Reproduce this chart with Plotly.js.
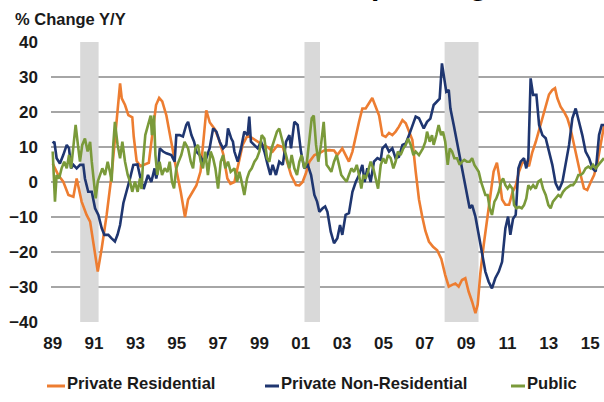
<!DOCTYPE html>
<html>
<head>
<meta charset="utf-8">
<script src="https://cdn.plot.ly/plotly-3.0.1.min.js"></script>
<style>html,body{margin:0;padding:0;background:#fff;}#chart{width:604px;height:402px;}</style>
</head>
<body>
<div id="chart"></div>
<script>
// ---------------- DATA ----------------
const seriesNames = ['Private Residential', 'Private Non-Residential', 'Public'];
const tickYears = [1989,1991,1993,1995,1997,1999,2001,2003,2005,2007,2009,2011,2013,2015];
const tickLabels = ['89','91','93','95','97','99','01','03','05','07','09','11','13','15'];
const recessionStart = [1990.33, 2001.18, 2007.96];
const recessionEnd   = [1991.22, 2001.93, 2009.60];

const resYears = [
1989.0,1989.27,1989.51,1989.76,1990.0,1990.16,1990.4,1990.64,1990.81,1990.97,
1991.13,1991.18,1991.37,1991.61,1991.85,1992.01,1992.18,1992.26,1992.34,1992.5,
1992.66,1992.85,1992.92,1993.06,1993.25,1993.45,1993.65,1993.85,1994.0,1994.15,
1994.3,1994.5,1994.65,1994.85,1995.0,1995.2,1995.4,1995.55,1995.75,1995.95,
1996.15,1996.3,1996.43,1996.6,1996.85,1997.05,1997.25,1997.45,1997.6,1997.79,
1997.95,1998.19,1998.43,1998.67,1998.92,1999.16,1999.4,1999.64,1999.88,2000.13,
2000.29,2000.53,2000.77,2000.93,2001.09,2001.25,2001.42,2001.66,2001.9,2002.13,
2002.37,2002.61,2002.77,2003.01,2003.17,2003.33,2003.5,2003.66,2003.82,2003.98,
2004.14,2004.3,2004.46,2004.62,2004.79,2004.95,2005.11,2005.27,2005.43,2005.59,
2005.75,2005.92,2006.08,2006.24,2006.4,2006.56,2006.72,2006.88,2007.03,2007.2,
2007.4,2007.6,2007.8,2007.99,2008.16,2008.32,2008.48,2008.64,2008.8,2008.96,
2009.12,2009.29,2009.45,2009.56,2009.69,2009.85,2010.01,2010.17,2010.33,2010.49,
2010.6,2010.74,2010.9,2011.08,2011.24,2011.4,2011.56,2011.72,2011.88,2012.04,
2012.2,2012.37,2012.53,2012.69,2012.85,2013.01,2013.17,2013.3,2013.41,2013.57,
2013.74,2013.9,2014.06,2014.22,2014.38,2014.54,2014.7,2014.86,2015.03,2015.19,
2015.35,2015.51,2015.67];
const resValues = [
5.3,2.0,0.1,-3.7,-4.2,1.0,-5.6,-9.4,-11.3,-17.0,
-23.7,-25.6,-19.0,-9.4,2.0,11.5,23.0,28.2,23.9,22,
19.1,18.5,13,6,4.5,5,5.5,15,22,24,
23,19,14,8,3,-3,-10,-5,-3,-1,
3,13,20.5,17,15,12,8,1,-0.5,0,
4,10.6,13.4,12.5,11.5,10.6,10,8.7,10.5,10,
6.8,2,-0.9,-1,0,2.5,5.8,7.7,8.2,9,
9.1,9,7.7,9.6,7.7,5.8,8.7,13.4,17.2,21,
21,22.5,24,21.6,19,13.4,12.9,14,13.4,14.4,
15.8,17.7,16.8,14.4,12,3,-5,-10,-14,-17,
-18.5,-19.5,-22,-26.6,-29.9,-29.4,-29,-29.9,-28,-27.5,
-31.3,-34.2,-37.5,-35,-26,-18,-11.3,-4,3,5.5,
1.5,-5,-6.5,-6.5,-3,-1,3,5.5,5.8,4.5,
8.5,11.5,15,18.2,21.5,25,26.3,26.8,24,21.5,
20,18.2,15,10.5,5.8,2,-1.8,-2.3,0,2,
5.5,10.6,16];

const nonResYears = [
1989.0,1989.08,1989.19,1989.35,1989.51,1989.68,1989.79,1989.89,1990.0,1990.16,
1990.32,1990.48,1990.56,1990.72,1990.89,1991.05,1991.21,1991.37,1991.5,1991.69,
1991.85,1992.01,1992.14,1992.26,1992.42,1992.58,1992.74,1992.9,1993.1,1993.25,
1993.4,1993.61,1993.77,1993.93,1994.01,1994.1,1994.18,1994.34,1994.5,1994.74,
1994.9,1994.98,1995.14,1995.3,1995.46,1995.55,1995.71,1995.84,1995.95,1996.11,
1996.27,1996.43,1996.59,1996.76,1996.92,1997.08,1997.24,1997.4,1997.48,1997.64,
1997.72,1997.79,1997.95,1998.11,1998.27,1998.43,1998.51,1998.59,1998.75,1998.92,
1999.08,1999.24,1999.4,1999.53,1999.64,1999.8,1999.96,2000.13,2000.29,2000.45,
2000.53,2000.69,2000.85,2001.01,2001.17,2001.34,2001.5,2001.66,2001.79,2001.9,
2002.06,2002.18,2002.29,2002.45,2002.61,2002.77,2002.9,2003.01,2003.17,2003.33,
2003.5,2003.66,2003.82,2003.98,2004.09,2004.22,2004.38,2004.54,2004.71,2004.87,
2004.95,2005.11,2005.27,2005.43,2005.59,2005.75,2005.92,2006.08,2006.24,2006.4,
2006.56,2006.72,2006.79,2006.95,2007.11,2007.27,2007.43,2007.59,2007.72,2007.83,
2007.95,2008.04,2008.16,2008.24,2008.4,2008.56,2008.72,2008.88,2009.04,2009.17,
2009.29,2009.45,2009.61,2009.77,2009.93,2010.09,2010.25,2010.41,2010.58,2010.74,
2010.9,2011.03,2011.14,2011.27,2011.4,2011.53,2011.64,2011.8,2011.91,2012.01,
2012.12,2012.24,2012.4,2012.53,2012.69,2012.85,2013.01,2013.17,2013.33,2013.49,
2013.66,2013.82,2013.98,2014.14,2014.3,2014.46,2014.62,2014.78,2014.95,2015.11,
2015.27,2015.43,2015.56,2015.67];
const nonResValues = [
11,11.5,6.8,5.3,7.7,10.6,9.6,3.9,4.9,3.9,
4.9,4.9,1,-2.8,-2.8,-7.5,-9.4,-13.2,-15.1,-15.1,
-16.1,-17,-15,-12.3,-6,-2.8,1,4.9,5,1,
-2,2,0,3.9,1,3.9,9.6,8.7,8.2,7.7,
5.8,13.4,13.4,13,16.3,17.2,13.4,11.5,8.7,7.7,
5.8,6.8,9.6,15.3,14.4,11.5,9.6,10.6,15.3,12.4,
11.5,8.7,5.8,9.6,14.4,13.4,18.7,11.5,10.6,9.6,
11.5,8.7,4.9,2,4.9,2,5.8,4.9,11.5,13.4,
9.6,17.2,16.3,8.7,3.9,4.9,2,-3.7,-5.6,-8.5,
-7.5,-7,-8.5,-14.2,-17.5,-16.1,-12.3,-15.1,-9.4,-8.9,
-2.8,0,2,4.9,0,3.9,0,5.8,6.8,6.3,
9.6,10.6,8.7,9.6,6.8,7.2,10.6,11,13.4,16.3,
18.7,18.2,17.2,15.3,17.2,18.1,22,22.9,23.8,33.9,
29.5,25.8,26.3,21,16.3,11.5,5.8,1,-2.8,-7.5,
-6.6,-9.9,-15.1,-19.9,-25.6,-28.5,-30.4,-27.5,-25.6,-22.8,
-13.2,-9.9,-15.1,-10.5,-9.4,3.9,5.8,6.8,3.9,6.8,
29.6,24.9,24.9,16.3,13.4,12.5,8.7,4.9,-0.4,-2.3,
0.1,4.9,10.6,18.2,21,17.2,13.4,8.7,6.8,3.9,
3,13.4,16.3,16.3];

const pubYears = [
1989.0,1989.11,1989.19,1989.31,1989.43,1989.56,1989.68,1989.79,1989.89,1990.0,
1990.11,1990.24,1990.32,1990.43,1990.56,1990.69,1990.81,1990.89,1990.97,1991.08,
1991.18,1991.29,1991.4,1991.53,1991.66,1991.77,1991.85,1991.93,1992.01,1992.14,
1992.26,1992.37,1992.5,1992.63,1992.74,1992.85,1992.98,1993.11,1993.22,1993.3,
1993.37,1993.48,1993.61,1993.74,1993.8,1993.9,1993.97,1994.06,1994.17,1994.29,
1994.42,1994.55,1994.66,1994.77,1994.87,1994.98,1995.09,1995.22,1995.38,1995.55,
1995.68,1995.79,1995.9,1996.03,1996.16,1996.27,1996.38,1996.51,1996.64,1996.76,
1996.87,1997.0,1997.13,1997.24,1997.35,1997.48,1997.61,1997.79,1997.92,1998.03,
1998.14,1998.27,1998.4,1998.51,1998.63,1998.76,1998.88,1999.0,1999.11,1999.24,
1999.37,1999.48,1999.59,1999.72,1999.85,1999.96,2000.08,2000.21,2000.34,2000.45,
2000.56,2000.69,2000.82,2000.93,2001.04,2001.17,2001.3,2001.42,2001.53,2001.63,
2001.74,2001.85,2001.98,2002.11,2002.25,2002.37,2002.48,2002.61,2002.74,2002.85,
2002.96,2003.09,2003.22,2003.33,2003.45,2003.58,2003.71,2003.82,2003.93,2004.03,
2004.14,2004.25,2004.38,2004.51,2004.62,2004.74,2004.87,2004.99,2005.11,2005.22,
2005.35,2005.48,2005.59,2005.7,2005.83,2005.96,2006.08,2006.19,2006.32,2006.45,
2006.56,2006.72,2006.91,2007.03,2007.11,2007.24,2007.35,2007.43,2007.56,2007.67,
2007.79,2007.88,2007.99,2008.11,2008.21,2008.32,2008.43,2008.56,2008.69,2008.8,
2008.91,2009.04,2009.17,2009.29,2009.4,2009.49,2009.61,2009.72,2009.82,2009.93,
2010.04,2010.14,2010.25,2010.37,2010.46,2010.58,2010.69,2010.79,2010.9,2011.01,
2011.11,2011.24,2011.32,2011.43,2011.56,2011.69,2011.8,2011.91,2012.01,2012.12,
2012.24,2012.37,2012.49,2012.61,2012.72,2012.85,2012.98,2013.09,2013.2,2013.33,
2013.46,2013.57,2013.69,2013.82,2013.95,2014.06,2014.17,2014.3,2014.43,2014.54,
2014.65,2014.78,2014.91,2015.03,2015.14,2015.27,2015.4,2015.51,2015.67];
const pubValues = [
8.7,-5.6,2,1,3.9,5.8,3.9,7.7,3.9,9.6,
16.3,9.6,5.8,10.6,12.4,8.7,11.5,5.8,2,-4.7,
0.1,2,3.9,2,5.8,2.9,0.1,10.6,17.2,10.6,
6.8,11.5,5.8,2,0.1,-2.8,0.1,-2.8,1,-2,
5.8,13.4,16.3,19,13.4,19,7.7,2,5.8,2,
3.9,2.9,5.8,0.1,-1.8,3.9,5.8,7.7,11.5,9.6,
5.8,3.9,9.6,10.6,5.8,3.9,8.7,2,8.7,6.8,
3.9,-1.9,5.8,7.7,3.9,5.8,2.9,3.9,0.1,2.9,
0.1,-3.7,1,2.9,3.9,5.8,6.8,8.7,13.4,12.4,
6.8,5.8,9.6,12.4,14.4,15.3,12.4,9.6,5.8,3.9,
7.7,3.9,2,5.8,7.7,3.9,5.8,11.5,18.2,19,
10.6,5.8,10.6,17.2,4.9,3.9,2.9,5.8,7.7,4.9,
2,1,0.1,2,3.9,2.9,4.9,2,-1.9,2,
1,2.9,5.8,3.9,1,-1.9,4.9,6.8,5.3,7.7,
6.8,3.9,5.8,8.7,7.7,9.6,10.6,12.4,10.6,7.7,
8.7,7.7,9.6,11.5,14.4,11.5,13.4,10.6,13.4,16.3,
13.4,14.4,11.5,4.9,9.6,8.7,6.8,6.8,4.9,5.8,
6.3,5.8,5.8,6.8,4.9,3.9,2.9,0.1,-1.9,-3.7,
-3.7,-7.5,-9.4,-5.6,-4.7,-2.8,0.1,1,-0.9,-1.9,
-0.9,-1.9,-6.6,-7.5,-7.1,-7.5,-6.6,-4.7,-0.9,-1.9,
-0.9,-1.9,0.1,0.6,-1.9,-3.7,-6.6,-7.5,-5.6,-4.7,
-3.7,-4.2,-2.8,-1.9,-1.3,-0.9,-0.9,0.1,2,2,
2.5,3.9,4.4,3.9,4.9,3.9,4.9,5.8,6.8];

// ---------------- STYLE ----------------
const colors = ['#ED7D31', '#1F3670', '#7A9A3A'];
const W = 604, H = 402, ML = 51, MR = 0, MT = 42, MB = 80;
const PW = W - ML - MR, PH = H - MT - MB;
const pxX = x => (x - ML) / PW;
const pxY = y => (H - MB - y) / PH;
const FONT = 'Liberation Sans, Arial, sans-serif';
const TXT = '#1a1a1a';

const traces = [
  {x: resYears, y: resValues},
  {x: nonResYears, y: nonResValues},
  {x: pubYears, y: pubValues}
].map((d, i) => ({
  x: d.x, y: d.y, type: 'scatter', mode: 'lines', name: seriesNames[i],
  line: {color: colors[i], width: 2.6}, showlegend: false, hoverinfo: 'skip'
}));

const shapes = recessionStart.map((s, i) => ({
  type: 'rect', xref: 'x', yref: 'y', x0: s, x1: recessionEnd[i], y0: -40, y1: 40,
  fillcolor: '#D9D9D9', line: {width: 0}, layer: 'between'
}));

// legend (drawn manually: short dash + label)
const legendDashX = [47, 265, 511];
const legendDashLen = [18, 14, 14];
const legendY = 383;
const annotations = [];
seriesNames.forEach((n, i) => {
  shapes.push({type: 'line', xref: 'paper', yref: 'paper',
    x0: pxX(legendDashX[i]), x1: pxX(legendDashX[i] + legendDashLen[i]),
    y0: pxY(legendY + 3), y1: pxY(legendY + 3),
    line: {color: colors[i], width: 3}});
  annotations.push({xref: 'paper', yref: 'paper', x: pxX(legendDashX[i] + legendDashLen[i]),
    y: pxY(legendY), xanchor: 'left', yanchor: 'middle', showarrow: false, text: n,
    font: {family: FONT, size: 16.6, color: TXT, weight: 'bold'}});
});
// axis unit label
annotations.push({xref: 'paper', yref: 'paper', x: pxX(13), y: pxY(19), xanchor: 'left',
  yanchor: 'middle', showarrow: false, text: '% Change Y/Y',
  font: {family: FONT, size: 16.5, color: TXT, weight: 'bold'}});
// chart title (cut off at the top of the picture, as in the source)
annotations.push({xref: 'paper', yref: 'paper', x: pxX(490), y: pxY(2.5), xanchor: 'right',
  yanchor: 'bottom', showarrow: false, text: 'Construction Spending',
  font: {family: FONT, size: 30, color: '#000', weight: 'bold'}});

const layout = {
  width: W, height: H,
  margin: {l: ML, r: MR, t: MT, b: MB, pad: 0},
  paper_bgcolor: '#fff', plot_bgcolor: '#fff',
  showlegend: false,
  xaxis: {range: [1988.918, 2015.67], tickmode: 'array', tickvals: tickYears, ticktext: tickLabels,
    showgrid: false, zeroline: false, showline: false, ticks: '',
    ticklabelstandoff: 9,
    tickfont: {family: FONT, size: 17, color: TXT, weight: 'bold'}},
  yaxis: {range: [-40, 40], tickmode: 'linear', tick0: 0, dtick: 10,
    showgrid: true, gridcolor: '#A6A6A6', gridwidth: 1.5, zeroline: false, showline: false, ticks: '',
    ticklabelstandoff: 12,
    tickfont: {family: FONT, size: 17, color: TXT, weight: 'bold'}},
  shapes: shapes,
  annotations: annotations
};

Plotly.newPlot('chart', traces, layout, {staticPlot: true, displayModeBar: false});
</script>
</body>
</html>
